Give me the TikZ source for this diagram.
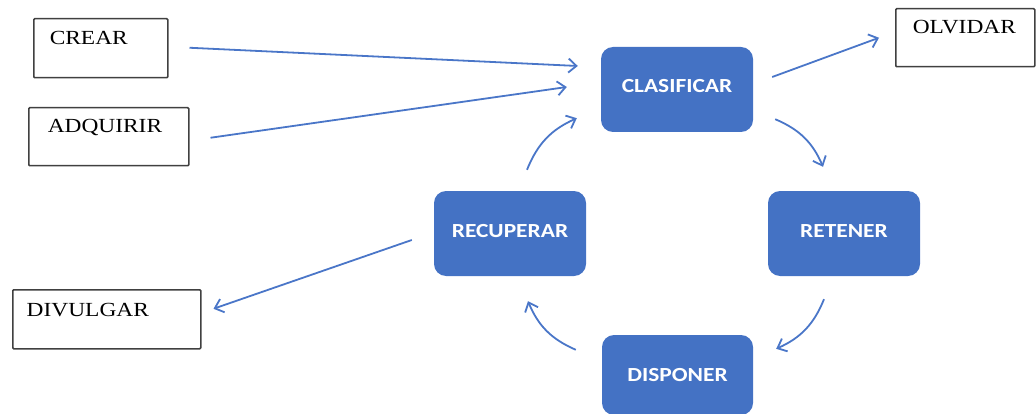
\documentclass[tikz,border=0pt]{standalone}
\usepackage{fontspec}
\usetikzlibrary{arrows.meta,calc}
\newfontfamily\tagfont[FakeStretch=1.17]{Liberation Serif}
\newfontfamily\stagefont[FakeStretch=1.17]{Carlito}
\definecolor{stageblue}{HTML}{4472C4}
\definecolor{flowblue}{HTML}{4A76C8}
\begin{document}
\begin{tikzpicture}[x=1pt,y=1pt,
  stage/.style={fill=stageblue, draw=none, rounded corners=12pt,
    minimum width=152pt, minimum height=85pt, inner sep=0pt, text=white,
    font=\stagefont\bfseries\fontsize{20}{24}\selectfont,
    text height=13pt, text depth=6pt},
  tagbox/.style={draw=black!75, line width=1.5pt, rounded corners=1pt,
    fill=white, anchor=north west, align=left, inner ysep=0pt,
    font=\tagfont\fontsize{20}{24}\selectfont},
  flow/.style={draw=flowblue, line width=1.8pt,
    -{Straight Barb[length=8pt,width=14pt,line width=1.8pt]}}
]
\useasboundingbox (0,0) rectangle (1036,413);

% cycle stages
\node[stage] (clasificar) at (677,323.5) {CLASIFICAR};
\node[stage] (retener)    at (844,179.5) {RETENER};
\node[stage] (recuperar)  at (510,179.5) {RECUPERAR};
\node[stage, minimum width=151pt, minimum height=80pt, text depth=0pt]
  (disponer) at (677.5,38) {DISPONER};

% outer actions
\node[tagbox, inner xsep=16pt, text width=102pt, text height=26pt, text depth=33pt]
  (crear) at (33,395) {CREAR};
\node[tagbox, inner xsep=19pt, text width=122pt, text height=25pt, text depth=33pt]
  (adquirir) at (28,306) {ADQUIRIR};
\node[tagbox, inner xsep=17pt, text width=105pt, text height=25pt, text depth=33pt]
  (olvidar) at (895,405) {OLVIDAR};
\node[tagbox, inner xsep=14pt, text width=160pt, text height=27pt, text depth=32pt]
  (divulgar) at (12,124) {DIVULGAR};

% straight connectors
\draw[flow] ($(crear.east)+(21,0.5)$) -- ($(clasificar.west)+(-23,23.5)$);
\draw[flow] ($(adquirir.east)+(21,-1)$) -- ($(clasificar.west)+(-34,2.5)$);
\draw[flow] ($(clasificar.east)+(19,12.5)$) -- ($(olvidar.west)+(-16,0)$);
\draw[flow] ($(recuperar.west)+(-22,-6.5)$) -- ($(divulgar.east)+(12,10.5)$);

% cycle connectors
\draw[flow] ($(clasificar.south east)+(22,13)$) to[bend left=22] ($(retener.north)+(-21,24)$);
\draw[flow] ($(retener.south)+(-20,-23)$) to[bend left=22] ($(disponer.north east)+(23,-14)$);
\draw[flow] ($(disponer.north west)+(-26,-15)$) to[bend left=22] ($(recuperar.south)+(18,-25)$);
\draw[flow] ($(recuperar.north)+(17,21)$) to[bend left=22] ($(clasificar.south west)+(-24,14)$);
\end{tikzpicture}
\end{document}
